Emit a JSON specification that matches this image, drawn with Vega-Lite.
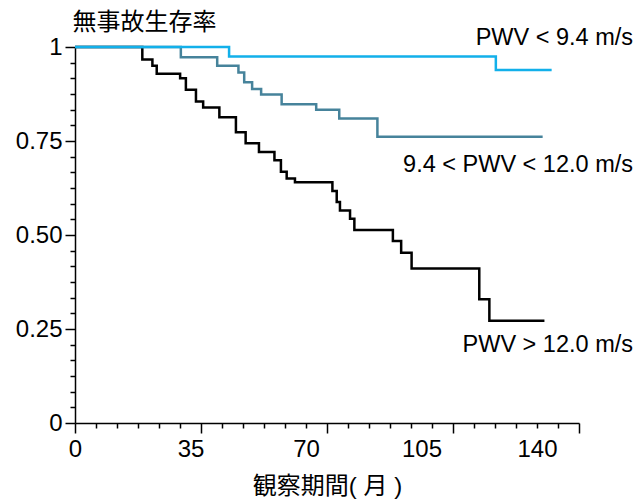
{
  "$schema": "https://vega.github.io/schema/vega-lite/v6.json",
  "width": 504,
  "height": 376,
  "autosize": {"type": "none"},
  "padding": {"left": 75, "top": 47, "right": 59, "bottom": 77},
  "background": "white",
  "config": {"view": {"stroke": null}, "font": "Liberation Sans"},
  "datasets": {
    "km": [
      {"group": "PWV > 12.0 m/s", "month": 0, "survival": 1},
      {"group": "PWV > 12.0 m/s", "month": 18.7, "survival": 0.967},
      {"group": "PWV > 12.0 m/s", "month": 21.5, "survival": 0.95},
      {"group": "PWV > 12.0 m/s", "month": 22.7, "survival": 0.929},
      {"group": "PWV > 12.0 m/s", "month": 29.2, "survival": 0.917},
      {"group": "PWV > 12.0 m/s", "month": 30.8, "survival": 0.886},
      {"group": "PWV > 12.0 m/s", "month": 33.6, "survival": 0.855},
      {"group": "PWV > 12.0 m/s", "month": 35.6, "survival": 0.839},
      {"group": "PWV > 12.0 m/s", "month": 40.1, "survival": 0.813},
      {"group": "PWV > 12.0 m/s", "month": 44.7, "survival": 0.773},
      {"group": "PWV > 12.0 m/s", "month": 47.4, "survival": 0.744},
      {"group": "PWV > 12.0 m/s", "month": 51.1, "survival": 0.721},
      {"group": "PWV > 12.0 m/s", "month": 55.4, "survival": 0.699},
      {"group": "PWV > 12.0 m/s", "month": 57.2, "survival": 0.668},
      {"group": "PWV > 12.0 m/s", "month": 58.8, "survival": 0.65},
      {"group": "PWV > 12.0 m/s", "month": 61.1, "survival": 0.64},
      {"group": "PWV > 12.0 m/s", "month": 71.5, "survival": 0.617},
      {"group": "PWV > 12.0 m/s", "month": 72.7, "survival": 0.588},
      {"group": "PWV > 12.0 m/s", "month": 73.6, "survival": 0.565},
      {"group": "PWV > 12.0 m/s", "month": 76.4, "survival": 0.543},
      {"group": "PWV > 12.0 m/s", "month": 77.6, "survival": 0.513},
      {"group": "PWV > 12.0 m/s", "month": 88.3, "survival": 0.484},
      {"group": "PWV > 12.0 m/s", "month": 90.6, "survival": 0.453},
      {"group": "PWV > 12.0 m/s", "month": 93.5, "survival": 0.411},
      {"group": "PWV > 12.0 m/s", "month": 112.3, "survival": 0.329},
      {"group": "PWV > 12.0 m/s", "month": 115.1, "survival": 0.272},
      {"group": "PWV > 12.0 m/s", "month": 130.4, "survival": 0.272},
      {"group": "9.4 < PWV < 12.0 m/s", "month": 0, "survival": 1},
      {"group": "9.4 < PWV < 12.0 m/s", "month": 29.4, "survival": 0.973},
      {"group": "9.4 < PWV < 12.0 m/s", "month": 39.5, "survival": 0.95},
      {"group": "9.4 < PWV < 12.0 m/s", "month": 45.4, "survival": 0.932},
      {"group": "9.4 < PWV < 12.0 m/s", "month": 47.0, "survival": 0.906},
      {"group": "9.4 < PWV < 12.0 m/s", "month": 49.2, "survival": 0.888},
      {"group": "9.4 < PWV < 12.0 m/s", "month": 51.7, "survival": 0.874},
      {"group": "9.4 < PWV < 12.0 m/s", "month": 57.4, "survival": 0.848},
      {"group": "9.4 < PWV < 12.0 m/s", "month": 67.0, "survival": 0.833},
      {"group": "9.4 < PWV < 12.0 m/s", "month": 73.4, "survival": 0.81},
      {"group": "9.4 < PWV < 12.0 m/s", "month": 84.0, "survival": 0.761},
      {"group": "9.4 < PWV < 12.0 m/s", "month": 129.9, "survival": 0.761},
      {"group": "PWV < 9.4 m/s", "month": 0, "survival": 1},
      {"group": "PWV < 9.4 m/s", "month": 42.8, "survival": 0.975},
      {"group": "PWV < 9.4 m/s", "month": 116.9, "survival": 0.939},
      {"group": "PWV < 9.4 m/s", "month": 132.4, "survival": 0.939}
    ],
    "notes": [
      {"label": "PWV < 9.4 m/s", "month": 155, "survival": 1.024},
      {"label": "9.4 < PWV < 12.0 m/s", "month": 155, "survival": 0.687},
      {"label": "PWV > 12.0 m/s", "month": 155, "survival": 0.207}
    ]
  },
  "layer": [
    {
      "data": {"name": "km"},
      "mark": {"type": "line", "interpolate": "step-after", "strokeWidth": 2.5},
      "encoding": {
        "x": {
          "field": "month",
          "type": "quantitative",
          "scale": {"domain": [0, 140], "nice": false, "zero": false},
          "axis": {
            "values": [0, 5.8333, 11.6667, 17.5, 23.3333, 29.1667, 35, 40.8333, 46.6667, 52.5, 58.3333, 64.1667, 70, 75.8333, 81.6667, 87.5, 93.3333, 99.1667, 105, 110.8333, 116.6667, 122.5, 128.3333, 134.1667, 140],
            "tickCount": 100,
            "title": "観察期間( 月 )",
            "grid": false,
            "domainColor": "black",
            "domainWidth": 1.5,
            "tickColor": "black",
            "tickWidth": 1.5,
            "tickSize": {"condition": {"test": "datum.value % 35 === 0", "value": 10}, "value": 5},
            "labelExpr": "datum.value % 35 === 0 ? datum.label : ''",
            "labelOffset": {"expr": "-0.3 * datum.value"},
            "labelFont": "Liberation Sans",
            "labelFontSize": 24,
            "labelColor": "black",
            "labelPadding": 4,
            "labelOverlap": false,
            "labelFlush": false,
            "titleFont": "Liberation Sans, Noto Sans CJK JP",
            "titleFontSize": 24,
            "titleFontWeight": "normal",
            "titleColor": "black",
            "titlePadding": 13
          }
        },
        "y": {
          "field": "survival",
          "type": "quantitative",
          "scale": {"domain": [0, 1], "nice": false},
          "axis": {
            "values": [0, 0.041667, 0.083333, 0.125, 0.166667, 0.208333, 0.25, 0.291667, 0.333333, 0.375, 0.416667, 0.458333, 0.5, 0.541667, 0.583333, 0.625, 0.666667, 0.708333, 0.75, 0.791667, 0.833333, 0.875, 0.916667, 0.958333, 1],
            "tickCount": 100,
            "title": "無事故生存率",
            "titleAngle": 0,
            "titleAlign": "left",
            "titleBaseline": "middle",
            "titleX": -3,
            "titleY": -25,
            "titleFont": "Noto Sans CJK JP",
            "titleFontSize": 24,
            "titleFontWeight": "normal",
            "titleColor": "black",
            "grid": false,
            "domainColor": "black",
            "domainWidth": 1.5,
            "tickColor": "black",
            "tickWidth": 1.5,
            "tickSize": {"condition": {"test": "(datum.value * 4) % 1 === 0", "value": 10}, "value": 5},
            "labelExpr": "datum.value === 0 ? '0' : datum.value === 1 ? '1' : (datum.value * 4) % 1 === 0 ? format(datum.value, '.2f') : ''",
            "labelFont": "Liberation Sans",
            "labelFontSize": 24,
            "labelColor": "black",
            "labelPadding": 3,
            "labelOverlap": false,
            "labelFlush": false
          }
        },
        "color": {
          "field": "group",
          "type": "nominal",
          "scale": {
            "domain": ["PWV > 12.0 m/s", "9.4 < PWV < 12.0 m/s", "PWV < 9.4 m/s"],
            "range": ["#000000", "#46839b", "#12b0ea"]
          },
          "legend": null
        }
      }
    },
    {
      "data": {"name": "notes"},
      "mark": {"type": "text", "align": "right", "baseline": "middle", "font": "Liberation Sans", "fontSize": 23.5, "color": "black"},
      "encoding": {
        "x": {"field": "month", "type": "quantitative"},
        "y": {"field": "survival", "type": "quantitative"},
        "text": {"field": "label"}
      }
    }
  ]
}
